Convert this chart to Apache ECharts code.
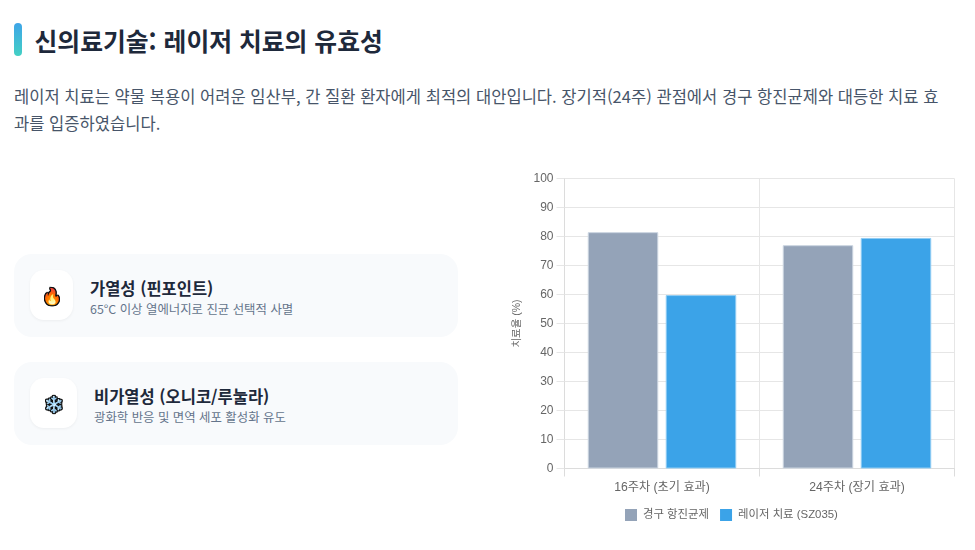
<!DOCTYPE html>
<html lang="ko"><head><meta charset="utf-8">
<script src="https://cdn.jsdelivr.net/npm/echarts@6/dist/echarts.min.js"></script>
<style>
html,body{margin:0;padding:0;width:975px;height:550px;background:#fff;overflow:hidden;font-family:"Noto Sans CJK KR","Noto Sans",sans-serif}
.abs{position:absolute}
#bar{left:14px;top:23px;width:8px;height:33px;border-radius:4px;background:linear-gradient(180deg,#3ea5e8,#43d0c4)}
#title{left:34.5px;top:22px;font-size:24.8px;font-weight:700;line-height:36px;color:#1e293b;white-space:nowrap}
#desc{left:14px;top:82.5px;width:935px;font-size:16.56px;line-height:27px;color:#475569}
.card{left:14px;width:444px;height:83px;background:#f8fafc;border-radius:18px}
.icon{left:16px;top:16px;height:50px;background:#fff;border-radius:14px;box-shadow:0 1px 3px rgba(0,0,0,.05);display:flex;align-items:center;justify-content:center;font-size:16px}
.icon span{filter:drop-shadow(1px 0 0 #111) drop-shadow(-1px 0 0 #111) drop-shadow(0 1px 0 #111) drop-shadow(0 -1px 0 #111)}
.h{top:21.5px;font-size:16.5px;font-weight:700;line-height:24px;color:#1e293b;white-space:nowrap}
.s{top:46px;font-size:12.4px;line-height:18px;color:#64748b;white-space:nowrap}
#chart{left:500px;top:160px;width:475px;height:380px}
</style></head><body>
<div class="abs" id="bar"></div>
<div class="abs" id="title">신의료기술: 레이저 치료의 유효성</div>
<div class="abs" id="desc">레이저 치료는 약물 복용이 어려운 임산부, 간 질환 환자에게 최적의 대안입니다. 장기적(24주) 관점에서 경구 항진균제와 대등한 치료 효과를 입증하였습니다.</div>
<div class="abs card" style="top:254px"><div class="abs icon" style="width:43px"><span>🔥</span></div><div class="abs h" style="left:76px">가열성 (핀포인트)</div><div class="abs s" style="left:76px">65°C 이상 열에너지로 진균 선택적 사멸</div></div>
<div class="abs card" style="top:362px"><div class="abs icon" style="width:47px"><span>❄️</span></div><div class="abs h" style="left:80px">비가열성 (오니코/루눌라)</div><div class="abs s" style="left:80px">광화학 반응 및 면역 세포 활성화 유도</div></div>
<div class="abs" id="chart"></div>
<script>
const categories=["16주차 (초기 효과)","24주차 (장기 효과)"];
const oralValues=[81.5,77];
const laserValues=[59.8,79.5];
const oralName="경구 항진균제";
const laserName="레이저 치료 (SZ035)";
const axisName="치료율 (%)";
const FONT='"Liberation Sans","Noto Sans CJK KR",sans-serif';
const GRID='#e6e6e6';
const c=echarts.init(document.getElementById('chart'));
c.setOption({
 animation:false,
 textStyle:{fontFamily:FONT},
 grid:{left:64.5,right:20.5,top:18.5,bottom:71.5,containLabel:false},
 legend:{bottom:14,left:120,itemWidth:12,itemHeight:12,itemGap:11,icon:'rect',
  itemStyle:{borderWidth:0},
  textStyle:{fontSize:11.4,color:'#666',fontFamily:FONT,padding:[0,0,0,1]},
  data:[oralName,laserName]},
 xAxis:{type:'category',data:categories,
  axisLine:{lineStyle:{color:'#dcdcdc',width:1}},
  axisTick:{show:true,length:8,lineStyle:{color:'#dcdcdc'}},
  axisLabel:{fontSize:12.2,color:'#666',margin:13,fontFamily:FONT},
  splitLine:{show:true,lineStyle:{color:GRID}}},
 yAxis:{type:'value',min:0,max:100,interval:10,
  name:axisName,nameLocation:'middle',nameGap:40,nameRotate:90,
  nameTextStyle:{fontSize:10.5,color:'#666',fontFamily:FONT},
  axisLine:{show:true,lineStyle:{color:'#dcdcdc'}},
  axisTick:{show:true,length:8,lineStyle:{color:GRID}},
  axisLabel:{fontSize:12,color:'#666',margin:11,fontFamily:FONT},
  splitLine:{show:true,lineStyle:{color:GRID}}},
 series:[
  {name:oralName,type:'bar',data:oralValues,barWidth:70.5,barGap:'10.6%',
   itemStyle:{color:'#94a3b8',borderColor:'#cbd5e1',borderWidth:1}},
  {name:laserName,type:'bar',data:laserValues,barWidth:70.5,
   itemStyle:{color:'#3ba3e8',borderColor:'#90cdf4',borderWidth:1}}
 ]
});
</script>
</body></html>
